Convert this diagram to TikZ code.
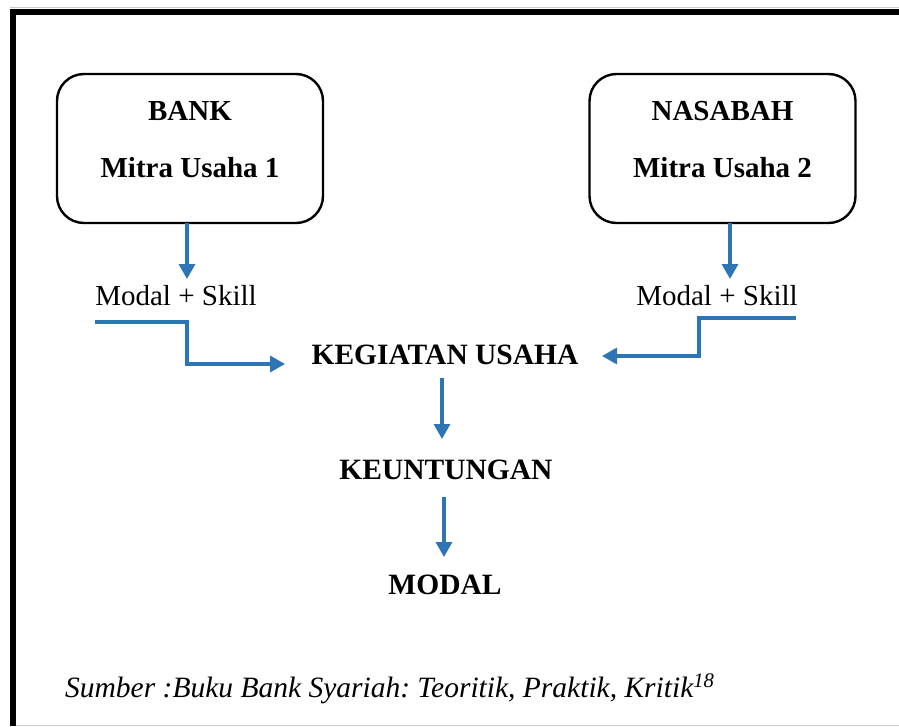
\documentclass[tikz,border=0pt]{standalone}
\usepackage{fontspec}
\setmainfont{Liberation Serif}
\usetikzlibrary{arrows.meta}
\definecolor{arrowblue}{HTML}{2E75B6}
\frenchspacing
\tikzset{
  box/.style={draw=black, line width=2.4pt, rounded corners=27pt, minimum width=266pt, minimum height=149pt, inner sep=0pt},
  boxtxt/.style={font=\fontsize{29}{57}\selectfont\bfseries, align=center, inner sep=0pt},
  lbl/.style={font=\fontsize{29.5}{34}\selectfont\bfseries, inner sep=0pt},
  plain/.style={font=\fontsize{29}{34}\selectfont, inner sep=0pt},
  conn/.style={draw=arrowblue, line width=3.3pt, -{Triangle[length=15pt,width=16pt]}},
}
\begin{document}
\begin{tikzpicture}[x=1pt,y=-1pt]
\useasboundingbox (0,0) rectangle (899,726);
% page border
\draw[gray!40, line width=0.8pt] (10,7) -- (899,7);
\draw[gray!40, line width=0.8pt] (10,725) -- (899,725);
\fill[black] (10,9) rectangle (899,15);
\fill[black] (10,9) rectangle (16,726);
% boxes
\node[box] (bank) at (190,148.5) {};
\node[boxtxt] (banktxt) at (190,139.5) {BANK\\Mitra Usaha 1};
\node[box] (nasabah) at (722.5,148.5) {};
\node[boxtxt] (nastxt) at (722.5,139.5) {NASABAH\\Mitra Usaha 2};
% labels
\node[plain] (ms1) at (176,296) {Modal + Skill};
\node[plain] (ms2) at (717,296) {Modal + Skill};
\node[lbl] (kus) at (445,355) {KEGIATAN USAHA};
\node[lbl] (untung) at (446,470) {KEUNTUNGAN};
\node[lbl] (modal) at (445,585) {MODAL};
% source
\node[font=\fontsize{29.5}{33}\selectfont\itshape, inner sep=0pt, anchor=base west] (src) at (65,697) {\frenchspacing Sumber :Buku Bank Syariah: Teoritik, Praktik, Kritik\textsuperscript{18}};
% connector coordinates
\coordinate (b1) at (187,223);
\coordinate (b2) at (730,223);
\coordinate (t1) at (187,279);
\coordinate (t2) at (730,279);
\coordinate (lstart) at (95,322);
\coordinate (ltip) at (285,364);
\coordinate (rstart) at (796,318);
\coordinate (rtip) at (602,356);
\coordinate (k1) at (442,378);
\coordinate (k2) at (442,439);
\coordinate (u1) at (444,497);
\coordinate (u2) at (444,557);
% connectors
\draw[conn] (b1) -- (t1);
\draw[conn] (b2) -- (t2);
\draw[conn] (lstart) -- (187,322) -- (187,364) -- (ltip);
\draw[conn] (rstart) -- (699,318) -- (699,356) -- (rtip);
\draw[conn] (k1) -- (k2);
\draw[conn] (u1) -- (u2);
\end{tikzpicture}
\end{document}
